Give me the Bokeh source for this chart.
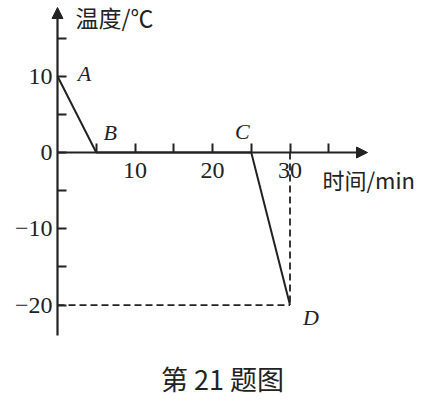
from bokeh.plotting import figure
from bokeh.models import FixedTicker, Arrow, NormalHead, Label, Range1d
from bokeh.embed import file_html
from bokeh.resources import INLINE

# ---- data ----
time_min = [0, 5, 25, 30]
temp_c = [10, 0, 0, -20]
point_names = ["A", "B", "C", "D"]
x_major = [10, 20, 30]
x_minor = [5, 15, 25, 35]
x_tick_labels = ["10", "20", "30"]
y_major = [10, 0, -10, -20]
y_minor = [15, 5, -5, -15]
y_tick_labels = ["10", "0", "\u221210", "\u221220"]
x_title = "时间/min"
y_title = "温度/℃"
caption = "第 21 题图"

# ---- layout ----
W, H = 430, 401
SX, SY = 7.75, 7.63          # px per unit
OX, OY = 57, 152             # origin in figure px (from left / from top)
x_axis_end = 40
y_axis_top, y_axis_bottom = 19.0, -24

serif = "Liberation Serif"
cjk = "Noto Sans CJK SC"
ink = "#222222"

p = figure(width=W, height=H, output_backend="svg", toolbar_location=None,
           x_range=Range1d(-OX / SX, (W - OX) / SX),
           y_range=Range1d(-(H - OY) / SY, OY / SY),
           min_border=0, x_axis_location="below", y_axis_location="left")
p.outline_line_color = None
p.grid.visible = False
p.background_fill_color = "white"
p.border_fill_color = "white"

xa = p.xaxis[0]
xa.fixed_location = 0
xa.ticker = FixedTicker(ticks=x_major, minor_ticks=x_minor)
xa.major_label_overrides = {v: t for v, t in zip(x_major, x_tick_labels)}
ya = p.yaxis[0]
ya.fixed_location = 0
ya.ticker = FixedTicker(ticks=y_major, minor_ticks=y_minor)
ya.major_label_overrides = {v: t for v, t in zip(y_major, y_tick_labels)}
for ax in (xa, ya):
    ax.axis_line_color = None
    ax.major_tick_in = 9
    ax.major_tick_out = 0
    ax.minor_tick_in = 9
    ax.minor_tick_out = 0
    ax.major_tick_line_width = 2
    ax.minor_tick_line_width = 2
    ax.major_tick_line_color = ink
    ax.minor_tick_line_color = ink
    ax.major_label_text_font = serif
    ax.major_label_text_font_size = "24px"
    ax.major_label_text_color = ink
xa.major_label_standoff = 10
ya.major_label_standoff = 5

# axis lines with arrow heads
p.add_layout(Arrow(x_start=0, y_start=y_axis_bottom, x_end=0, y_end=y_axis_top,
                   line_width=2.2, line_color=ink,
                   end=NormalHead(size=11, fill_color=ink, line_color=ink)))
p.add_layout(Arrow(x_start=0, y_start=0, x_end=x_axis_end, y_end=0,
                   line_width=2.2, line_color=ink,
                   end=NormalHead(size=11, fill_color=ink, line_color=ink)))

# data line
p.line(time_min, temp_c, line_width=2, line_color=ink)

# dashed guides from D
p.line([time_min[3], time_min[3]], [0, temp_c[3]], line_width=1.8,
       line_color=ink, line_dash="7 4")
p.line([0, time_min[3]], [temp_c[3], temp_c[3]], line_width=1.8,
       line_color=ink, line_dash="7 4")

# point labels
offsets = {"A": (27, 3), "B": (14, 20), "C": (-9, 21), "D": (21, -12)}
for xv, yv, name in zip(time_min, temp_c, point_names):
    dx, dy = offsets[name]
    p.add_layout(Label(x=xv, y=yv, x_offset=dx, y_offset=dy, text=name,
                       text_font=serif, text_font_style="italic",
                       text_font_size="22px", text_color=ink,
                       text_align="center", text_baseline="middle"))

# titles
p.add_layout(Label(x=75, y=H - 16, x_units="screen", y_units="screen", text=y_title,
                   text_font=cjk, text_font_size="23px", text_color=ink,
                   text_align="left", text_baseline="middle"))
p.add_layout(Label(x=322, y=H - 178, x_units="screen", y_units="screen", text=x_title,
                   text_font=cjk, text_font_size="22px", text_color=ink,
                   text_align="left", text_baseline="middle"))
p.add_layout(Label(x=222, y=H - 378, x_units="screen", y_units="screen", text=caption,
                   text_font=cjk, text_font_size="27px", text_color=ink,
                   text_align="center", text_baseline="middle"))

open("out.html", "w").write(file_html(p, INLINE))
